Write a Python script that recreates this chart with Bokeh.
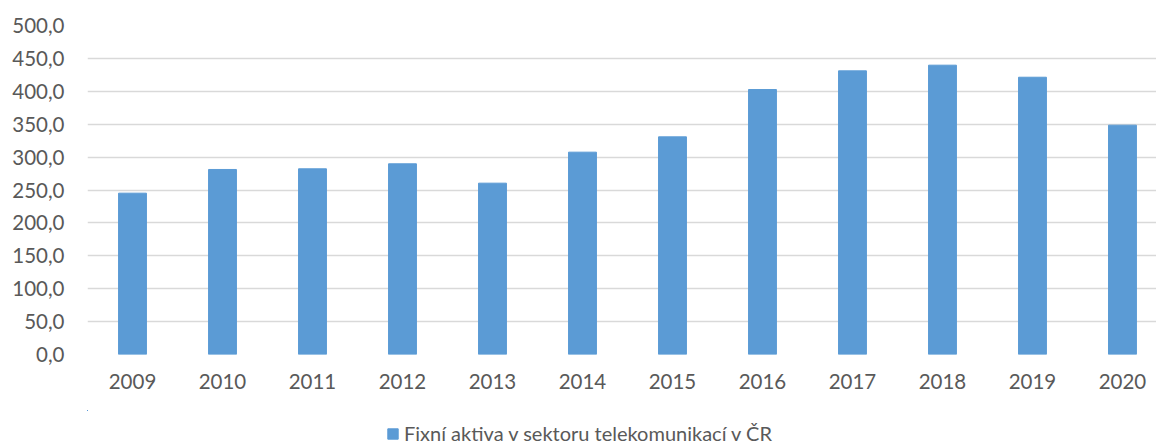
from bokeh.plotting import figure
from bokeh.layouts import column
from bokeh.models import Range1d, FixedTicker, Legend, LegendItem, ColumnDataSource
from bokeh.embed import file_html
from bokeh.resources import INLINE

years = ["2009", "2010", "2011", "2012", "2013", "2014", "2015", "2016", "2017", "2018", "2019", "2020"]
values = [245.2, 281.2, 282.2, 289.8, 260.4, 307.5, 330.8, 402.7, 431.1, 439.7, 421.4, 348.5]
y_ticks = [0, 50, 100, 150, 200, 250, 300, 350, 400, 450, 500]
series_name = "Fixní aktiva v sektoru telekomunikací v ČR"

FONT = "Lato"
TXT = "#595959"
BAR = "#5B9BD5"

idx = list(range(len(years)))
src = ColumnDataSource(dict(x=idx, top=values))

p = figure(width=1156, height=410, output_backend="svg", toolbar_location=None,
           x_range=Range1d(-0.5, 11.378), y_range=Range1d(0, 500),
           min_border_left=87, min_border_right=0, min_border_top=25, min_border_bottom=56)
p.outline_line_color = None
p.background_fill_color = "white"
p.border_fill_color = "white"

r = p.vbar(x="x", top="top", width=0.31, source=src, fill_color=BAR, line_color=BAR)

p.xgrid.visible = False
p.ygrid.grid_line_color = "#D9D9D9"
p.ygrid.grid_line_width = 1.5
p.ygrid.ticker = FixedTicker(ticks=y_ticks)

p.yaxis.ticker = FixedTicker(ticks=y_ticks)
p.yaxis.major_label_overrides = {t: f"{t:.1f}".replace(".", ",") for t in y_ticks}
p.xaxis.ticker = FixedTicker(ticks=idx)
p.xaxis.major_label_overrides = {i: y for i, y in zip(idx, years)}

for ax in (p.xaxis[0], p.yaxis[0]):
    ax.axis_line_color = None
    ax.major_tick_line_color = None
    ax.minor_tick_line_color = None
    ax.major_tick_in = 0
    ax.major_tick_out = 0
    ax.major_label_text_font = FONT
    ax.major_label_text_font_size = "20.5px"
    ax.major_label_text_color = TXT
p.yaxis.major_label_standoff = 23
p.xaxis.major_label_standoff = 19

# legend strip below the chart (its own bars lie outside its ranges, only the legend shows)
pl = figure(width=1156, height=35, output_backend="svg", toolbar_location=None,
            x_range=Range1d(100, 101), y_range=Range1d(-2, -1),
            min_border_left=0, min_border_right=0, min_border_top=0, min_border_bottom=0)
pl.axis.visible = False
pl.grid.visible = False
pl.outline_line_color = None
pl.border_fill_color = "white"
legend_bars = pl.vbar(x="x", top="top", width=0.31, source=src, fill_color=BAR, line_color=BAR)

legend = Legend(items=[LegendItem(label=series_name, renderers=[legend_bars])],
                location=(299, 0), orientation="horizontal",
                padding=0, margin=0, spacing=0, glyph_width=13, glyph_height=13,
                label_standoff=5, label_height=20,
                label_text_font=FONT, label_text_font_size="20px", label_text_color=TXT,
                border_line_color=None, background_fill_alpha=0)
pl.add_layout(legend, "center")

layout = column(p, pl, spacing=0)
open("out.html", "w").write(file_html(layout, INLINE))
